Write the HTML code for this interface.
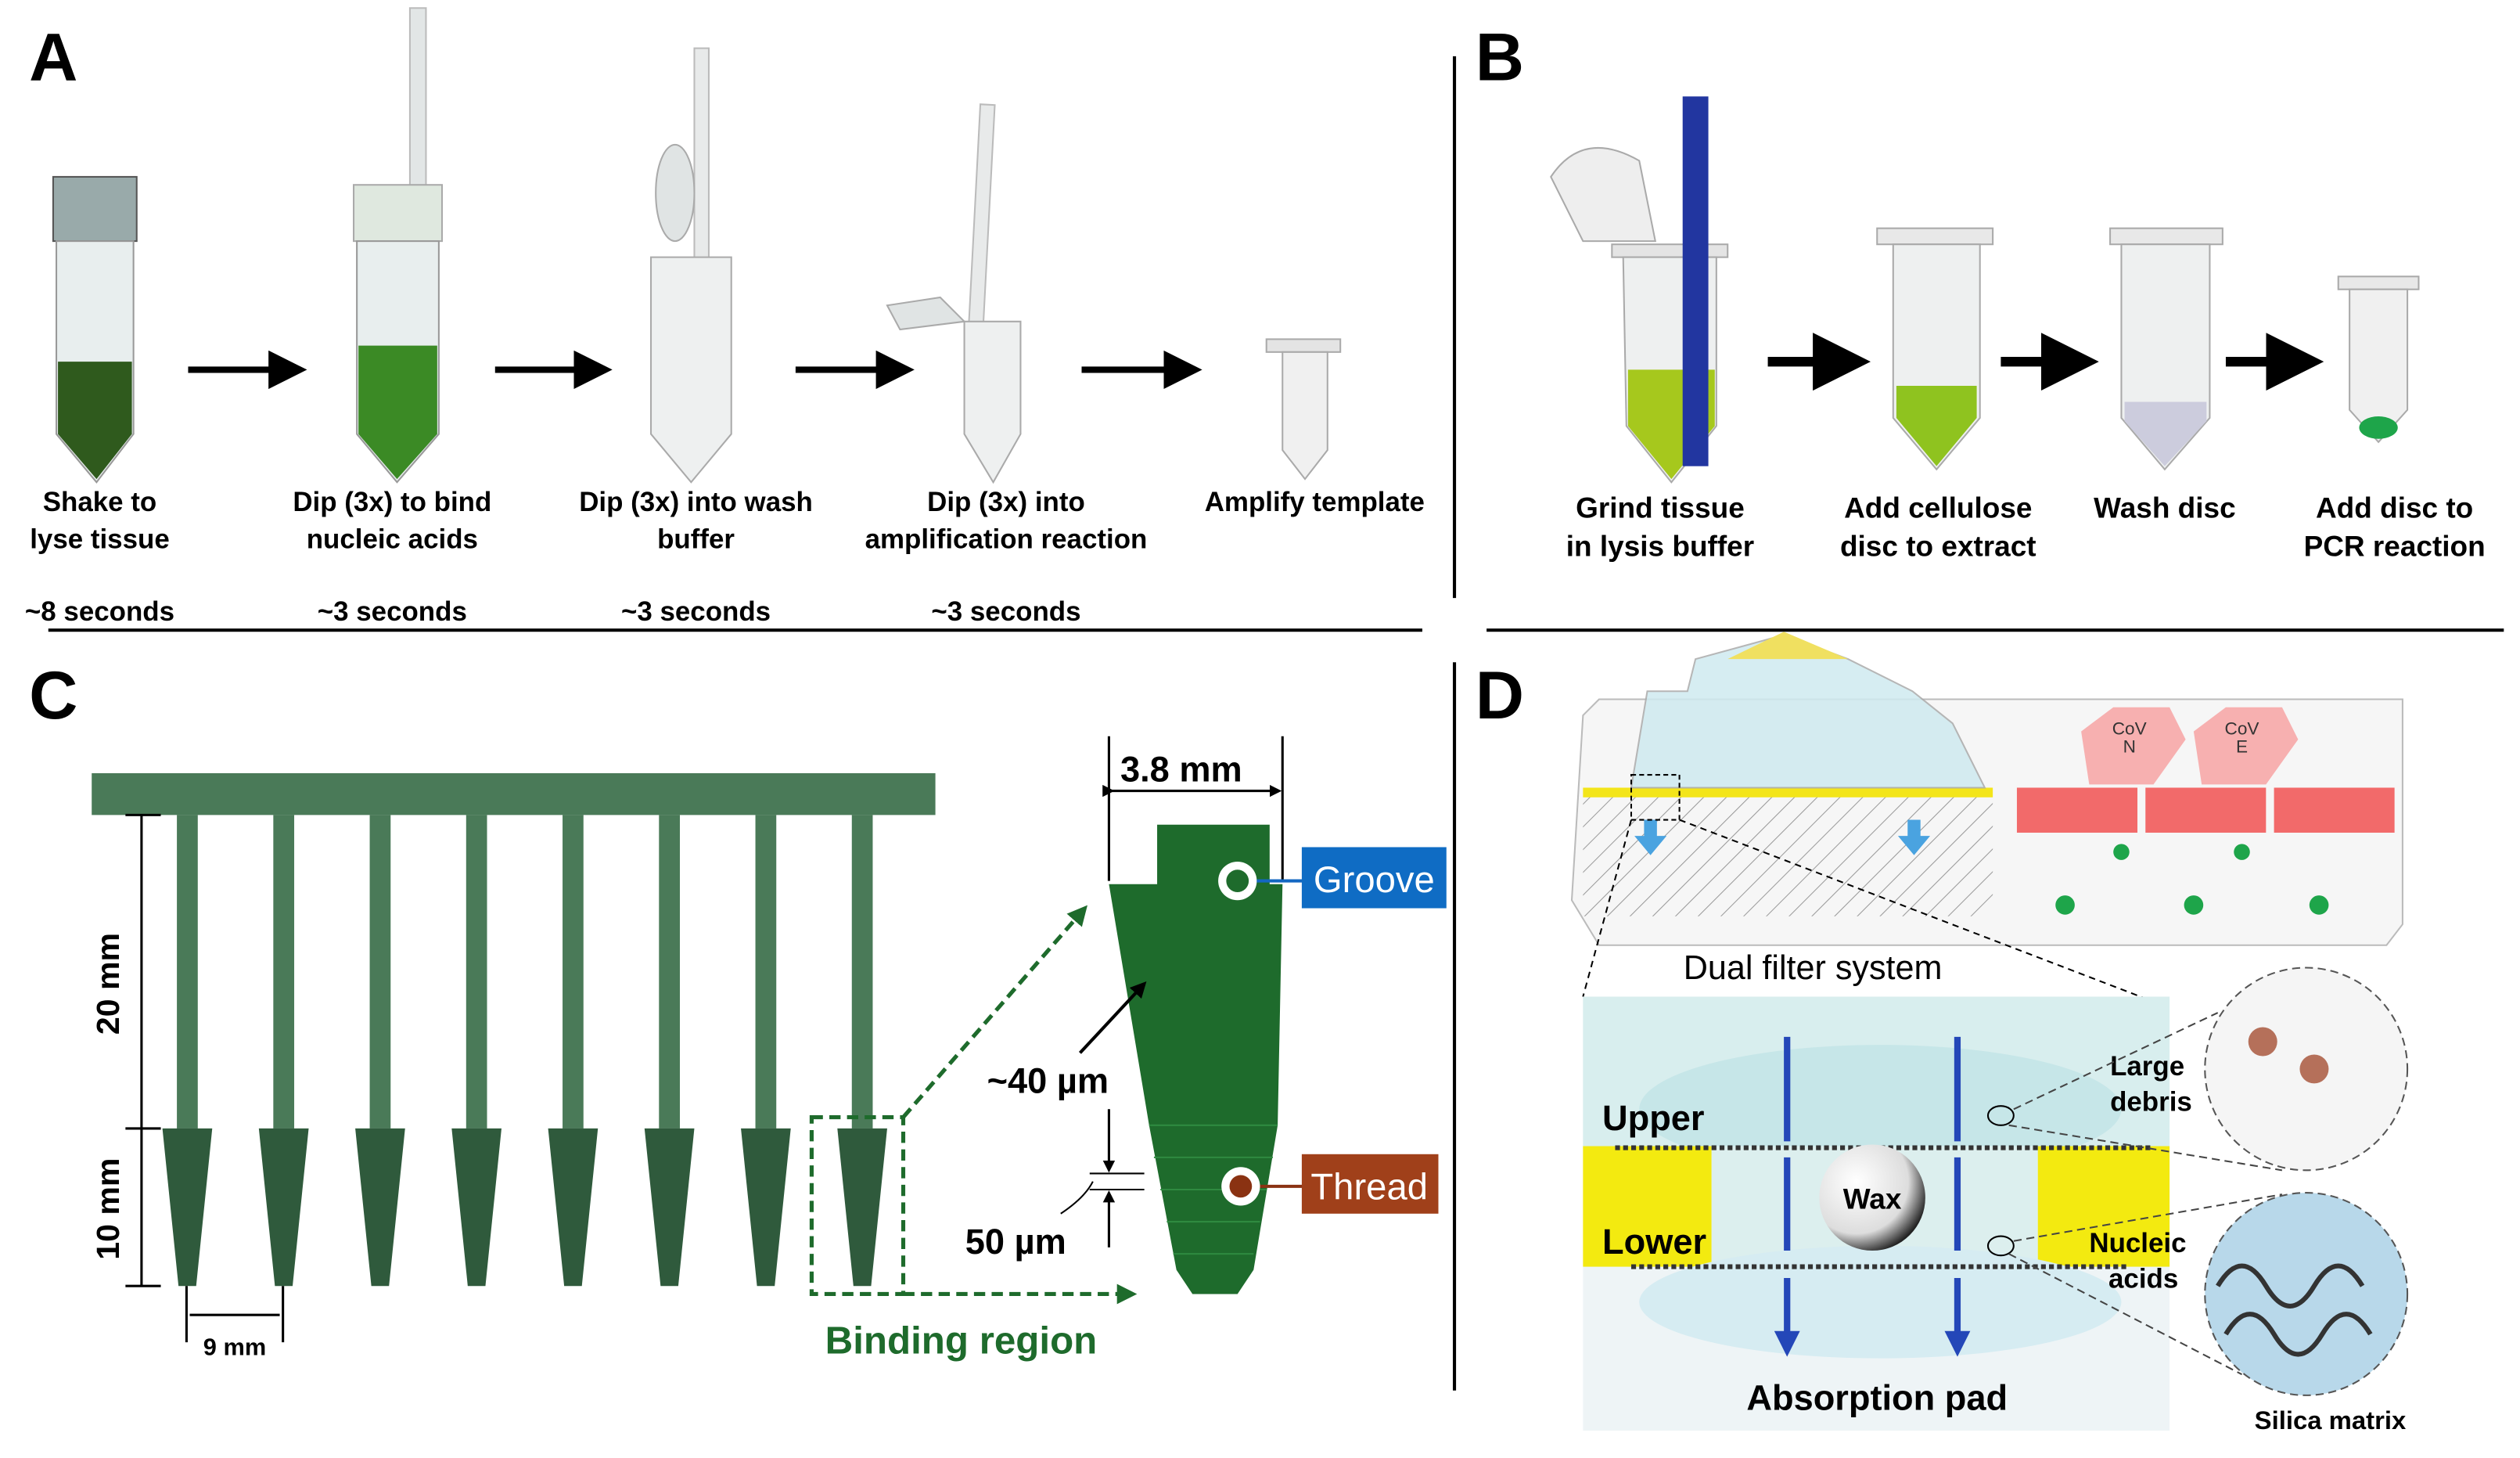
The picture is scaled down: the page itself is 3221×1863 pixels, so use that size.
<!DOCTYPE html>
<html><head><meta charset="utf-8"><style>
html,body{margin:0;padding:0;background:#fff;}
svg{display:block;}
text{font-family:"Liberation Sans",sans-serif;}
</style></head><body>
<svg width="3221" height="1863" viewBox="0 0 1568 907" xmlns="http://www.w3.org/2000/svg">
<defs>
<marker id="ah" markerWidth="6" markerHeight="6" refX="5" refY="3" orient="auto"><path d="M0,0 L6,3 L0,6 Z" fill="#000"/></marker>
<marker id="ag" markerWidth="5" markerHeight="5" refX="4" refY="2.5" orient="auto"><path d="M0,0 L5,2.5 L0,5 Z" fill="#1e6b2c"/></marker>
<marker id="ab" markerWidth="4" markerHeight="4" refX="3" refY="2" orient="auto"><path d="M0,0 L4,2 L0,4 Z" fill="#2447b8"/></marker>
<marker id="ak" markerWidth="5" markerHeight="5" refX="4" refY="2.5" orient="auto"><path d="M0,0 L5,2.5 L0,5 Z" fill="#000"/></marker>
<pattern id="hatch" width="10" height="10" patternUnits="userSpaceOnUse" patternTransform="rotate(45)"><line x1="0" y1="0" x2="0" y2="10" stroke="#999" stroke-width="1"/></pattern>
<radialGradient id="wax" cx="0.35" cy="0.35" r="0.7"><stop offset="0" stop-color="#fff"/><stop offset="0.7" stop-color="#ddd"/><stop offset="1" stop-color="#222"/></radialGradient>
</defs>
<g font-weight="bold">
<text x="18" y="50" font-size="42">A</text>
<text x="918" y="50" font-size="42">B</text>
<text x="18" y="447" font-size="42">C</text>
<text x="918" y="447" font-size="42">D</text>
</g>
<line x1="905" y1="35" x2="905" y2="372" stroke="#000" stroke-width="2"/>
<line x1="905" y1="412" x2="905" y2="865" stroke="#000" stroke-width="2"/>
<line x1="30" y1="392" x2="885" y2="392" stroke="#000" stroke-width="2"/>
<line x1="925" y1="392" x2="1558" y2="392" stroke="#000" stroke-width="2"/>

<!-- Panel A tubes -->
<g>
<rect x="33" y="110" width="52" height="40" fill="#9aa" stroke="#555"/>
<path d="M35,150 H83 V270 L60,300 L35,270 Z" fill="#e8eeee" stroke="#999"/>
<path d="M36,225 H82 V270 L60,298 L36,270 Z" fill="#2f5a1d"/>
<rect x="255" y="5" width="10" height="130" fill="#e2e6e6" stroke="#bbb"/>
<rect x="220" y="115" width="55" height="35" fill="#dfe8df" stroke="#aaa"/>
<path d="M222,150 H273 V270 L247,300 L222,270 Z" fill="#e8eeee" stroke="#999"/>
<path d="M223,215 H272 V270 L247,298 L223,270 Z" fill="#3b8a25"/>
<rect x="432" y="30" width="9" height="190" fill="#e8eaea" stroke="#bbb"/>
<ellipse cx="420" cy="120" rx="12" ry="30" fill="#e0e4e4" stroke="#aaa"/>
<path d="M405,160 H455 V270 L430,300 L405,270 Z" fill="#eef0f0" stroke="#aaa"/>
<rect x="605" y="65" width="9" height="190" fill="#e8eaea" stroke="#bbb" transform="rotate(3 610 160)"/>
<path d="M552,190 L585,185 L600,200 L560,205 Z" fill="#e0e4e4" stroke="#aaa"/>
<path d="M600,200 H635 V270 L618,300 L600,270 Z" fill="#eef0f0" stroke="#aaa"/>
<rect x="788" y="211" width="46" height="8" fill="#e4e4e4" stroke="#aaa"/>
<path d="M798,219 H826 V280 L812,298 L798,280 Z" fill="#f0f0f0" stroke="#aaa"/>
</g>
<g stroke="#000" stroke-width="4" marker-end="url(#ah)">
<line x1="117" y1="230" x2="187" y2="230"/><line x1="308" y1="230" x2="377" y2="230"/>
<line x1="495" y1="230" x2="565" y2="230"/><line x1="673" y1="230" x2="744" y2="230"/>
</g>
<g font-size="17" font-weight="bold" text-anchor="middle">
<text x="62" y="318">Shake to</text><text x="62" y="341">lyse tissue</text>
<text x="244" y="318">Dip (3x) to bind</text><text x="244" y="341">nucleic acids</text>
<text x="433" y="318">Dip (3x) into wash</text><text x="433" y="341">buffer</text>
<text x="626" y="318">Dip (3x) into</text><text x="626" y="341">amplification reaction</text>
<text x="818" y="318">Amplify template</text>
<text x="62" y="386">~8 seconds</text><text x="244" y="386">~3 seconds</text>
<text x="433" y="386">~3 seconds</text><text x="626" y="386">~3 seconds</text>
</g>

<!-- Panel B -->
<g>
<path d="M965,110 Q985,80 1020,100 L1030,150 L985,150 Z" fill="#eee" stroke="#aaa"/>
<rect x="1003" y="152" width="72" height="8" fill="#e4e4e4" stroke="#aaa"/>
<path d="M1010,160 H1068 V265 L1040,300 L1012,265 Z" fill="#eef0f0" stroke="#aaa"/>
<path d="M1013,230 H1067 V265 L1040,298 L1013,265 Z" fill="#a6c81d"/>
<rect x="1047" y="60" width="16" height="230" fill="#2236a0"/>
<rect x="1168" y="142" width="72" height="10" fill="#e8e8e8" stroke="#aaa"/>
<path d="M1178,152 H1232 V260 L1205,292 L1178,260 Z" fill="#eef0f0" stroke="#aaa"/>
<path d="M1180,240 H1230 V260 L1205,290 L1180,260 Z" fill="#8fc31f"/>
<rect x="1313" y="142" width="70" height="10" fill="#e8e8e8" stroke="#aaa"/>
<path d="M1320,152 H1375 V260 L1347,292 L1320,260 Z" fill="#eef0f0" stroke="#aaa"/>
<path d="M1322,250 H1373 V262 L1347,290 L1322,262 Z" fill="#ccd"/>
<rect x="1455" y="172" width="50" height="8" fill="#e8e8e8" stroke="#aaa"/>
<path d="M1462,180 H1498 V255 L1480,275 L1462,255 Z" fill="#f0f0f0" stroke="#aaa"/>
<ellipse cx="1480" cy="266" rx="12" ry="7" fill="#1ea54a"/>
</g>
<g stroke="#000" stroke-width="6" marker-end="url(#ah)">
<line x1="1100" y1="225" x2="1158" y2="225"/><line x1="1245" y1="225" x2="1300" y2="225"/><line x1="1385" y1="225" x2="1440" y2="225"/>
</g>
<g font-size="18" font-weight="bold" text-anchor="middle">
<text x="1033" y="322">Grind tissue</text><text x="1033" y="346">in lysis buffer</text>
<text x="1206" y="322">Add cellulose</text><text x="1206" y="346">disc to extract</text>
<text x="1347" y="322">Wash disc</text>
<text x="1490" y="322">Add disc to</text><text x="1490" y="346">PCR reaction</text>
</g>

<!-- Panel C -->
<g fill="#4a7a58">
<rect x="57" y="481" width="525" height="26"/>
<g id="tooth">
<rect x="110" y="507" width="13" height="195"/>
<path d="M101,702 H132 L122,800 H111 Z" fill="#2f5a3c"/>
</g>
<use href="#tooth" x="60"/><use href="#tooth" x="120"/><use href="#tooth" x="180"/>
<use href="#tooth" x="240"/><use href="#tooth" x="300"/><use href="#tooth" x="360"/><use href="#tooth" x="420"/>
</g>
<g stroke="#000" stroke-width="1.5">
<line x1="88" y1="507" x2="88" y2="800"/>
<line x1="78" y1="507" x2="100" y2="507"/><line x1="78" y1="702" x2="100" y2="702"/><line x1="78" y1="800" x2="100" y2="800"/>
<line x1="116" y1="800" x2="116" y2="835"/><line x1="176" y1="800" x2="176" y2="835"/>
<line x1="118" y1="818" x2="174" y2="818"/>
</g>
<g font-size="20" font-weight="bold">
<text transform="translate(74,612) rotate(-90)" text-anchor="middle">20 mm</text>
<text transform="translate(74,752) rotate(-90)" text-anchor="middle">10 mm</text>
<text x="146" y="843" font-size="15" text-anchor="middle">9 mm</text>
</g>
<rect x="505" y="695" width="57" height="110" fill="none" stroke="#1e6b2c" stroke-width="2.5" stroke-dasharray="7,4"/>
<line x1="562" y1="695" x2="675" y2="565" stroke="#1e6b2c" stroke-width="2.5" stroke-dasharray="7,4" marker-end="url(#ag)"/>
<line x1="562" y1="805" x2="705" y2="805" stroke="#1e6b2c" stroke-width="2.5" stroke-dasharray="7,4" marker-end="url(#ag)"/>
<text x="598" y="842" font-size="24" font-weight="bold" fill="#1e6b2c" text-anchor="middle">Binding region</text>
<path d="M720,513 H790 V550 H798 L795,700 L780,790 L770,805 L742,805 L732,790 L715,700 L690,550 H720 Z" fill="#1e6b2c"/>
<g stroke="#2f8a40" stroke-width="1"><line x1="715" y1="700" x2="795" y2="700"/><line x1="718" y1="720" x2="792" y2="720"/><line x1="722" y1="740" x2="788" y2="740"/><line x1="726" y1="760" x2="784" y2="760"/><line x1="730" y1="780" x2="780" y2="780"/></g>
<line x1="690" y1="458" x2="690" y2="548" stroke="#000" stroke-width="1.5"/>
<line x1="798" y1="458" x2="798" y2="548" stroke="#000" stroke-width="1.5"/>
<line x1="692" y1="492" x2="796" y2="492" stroke="#000" stroke-width="1.5" marker-start="url(#ak)" marker-end="url(#ak)"/>
<text x="735" y="486" font-size="22" font-weight="bold" text-anchor="middle">3.8 mm</text>
<circle cx="770" cy="548" r="12" fill="#fff"/><circle cx="770" cy="548" r="7" fill="#1e6b2c"/>
<line x1="782" y1="548" x2="812" y2="548" stroke="#1367c2" stroke-width="2"/>
<rect x="810" y="527" width="90" height="38" fill="#0f6cc4"/>
<text x="855" y="555" font-size="23" fill="#fff" text-anchor="middle">Groove</text>
<circle cx="772" cy="738" r="12" fill="#fff"/><circle cx="772" cy="738" r="7" fill="#8a3212"/>
<line x1="784" y1="738" x2="812" y2="738" stroke="#8a3212" stroke-width="2"/>
<rect x="810" y="718" width="85" height="37" fill="#a0401a"/>
<text x="852" y="746" font-size="23" fill="#fff" text-anchor="middle">Thread</text>
<line x1="672" y1="655" x2="712" y2="612" stroke="#000" stroke-width="2" marker-end="url(#ak)"/>
<text x="652" y="680" font-size="22" font-weight="bold" text-anchor="middle">~40 µm</text>
<line x1="690" y1="690" x2="690" y2="728" stroke="#000" stroke-width="1.5" marker-end="url(#ak)"/>
<line x1="690" y1="776" x2="690" y2="742" stroke="#000" stroke-width="1.5" marker-end="url(#ak)"/>
<line x1="678" y1="730" x2="712" y2="730" stroke="#000"/><line x1="678" y1="740" x2="712" y2="740"/>
<line x1="678" y1="740" x2="712" y2="740" stroke="#000"/>
<path d="M660,755 Q675,745 680,735" fill="none" stroke="#000"/>
<text x="632" y="780" font-size="22" font-weight="bold" text-anchor="middle">50 µm</text>

<!-- Panel D -->
<path d="M985,445 L995,435 H1495 L1495,575 L1485,588 H995 L978,560 Z" fill="#f6f6f6" stroke="#bbb"/>
<rect x="985" y="495" width="255" height="75" fill="url(#hatch)"/>
<rect x="985" y="490" width="255" height="6" fill="#f3e51a"/>
<path d="M1015,490 L1025,430 L1050,430 L1055,410 L1110,395 L1150,410 L1190,430 L1215,450 L1235,490 Z" fill="#cfeaf0" opacity="0.85" stroke="#aaa"/>
<path d="M1075,410 L1110,393 L1150,410 Z" fill="#f0e060"/>
<rect x="1255" y="490" width="75" height="28" fill="#f26a6a"/><rect x="1335" y="490" width="75" height="28" fill="#f26a6a"/><rect x="1415" y="490" width="75" height="28" fill="#f26a6a"/>
<path d="M1295,455 L1315,440 H1350 L1360,460 L1340,488 H1300 Z" fill="#f7b0b0"/>
<path d="M1365,455 L1385,440 H1420 L1430,460 L1410,488 H1370 Z" fill="#f7b0b0"/>
<text x="1325" y="457" font-size="11" fill="#333" text-anchor="middle">CoV</text><text x="1325" y="468" font-size="11" fill="#333" text-anchor="middle">N</text>
<text x="1395" y="457" font-size="11" fill="#333" text-anchor="middle">CoV</text><text x="1395" y="468" font-size="11" fill="#333" text-anchor="middle">E</text>
<g fill="#1ea54a"><circle cx="1320" cy="530" r="5"/><circle cx="1395" cy="530" r="5"/><circle cx="1285" cy="563" r="6"/><circle cx="1365" cy="563" r="6"/><circle cx="1443" cy="563" r="6"/></g>
<g fill="#4aa3e0"><path d="M1023,510 h8 v10 h6 l-10,12 l-10,-12 h6 Z"/><path d="M1187,510 h8 v10 h6 l-10,12 l-10,-12 h6 Z"/></g>
<rect x="1015" y="482" width="30" height="28" fill="none" stroke="#000" stroke-dasharray="3,2"/>
<line x1="1015" y1="510" x2="985" y2="620" stroke="#000" stroke-dasharray="4,3"/>
<line x1="1045" y1="510" x2="1345" y2="625" stroke="#000" stroke-dasharray="4,3"/>
<text x="1128" y="609" font-size="21" text-anchor="middle">Dual filter system</text>
<rect x="985" y="620" width="365" height="270" fill="#eef4f6"/>
<rect x="985" y="620" width="365" height="95" fill="#d8eeee"/>
<ellipse cx="1170" cy="690" rx="150" ry="40" fill="#c6e6e8"/>
<rect x="985" y="713" width="80" height="75" fill="#f3ea10"/><rect x="1268" y="713" width="82" height="75" fill="#f3ea10"/>
<rect x="1065" y="713" width="203" height="75" fill="#dcefee"/>
<ellipse cx="1170" cy="810" rx="150" ry="35" fill="#d6ecf2"/>
<line x1="1005" y1="714" x2="1340" y2="714" stroke="#333" stroke-width="3" stroke-dasharray="3,2"/>
<line x1="1015" y1="788" x2="1325" y2="788" stroke="#333" stroke-width="3" stroke-dasharray="3,2"/>
<g stroke="#2447b8" stroke-width="4">
<line x1="1112" y1="645" x2="1112" y2="710"/><line x1="1112" y1="720" x2="1112" y2="778"/><line x1="1112" y1="795" x2="1112" y2="840" marker-end="url(#ab)"/>
<line x1="1218" y1="645" x2="1218" y2="710"/><line x1="1218" y1="720" x2="1218" y2="778"/><line x1="1218" y1="795" x2="1218" y2="840" marker-end="url(#ab)"/>
</g>
<circle cx="1165" cy="745" r="33" fill="url(#wax)"/>
<text x="1165" y="752" font-size="18" font-weight="bold" text-anchor="middle">Wax</text>
<text x="997" y="703" font-size="22" font-weight="bold">Upper</text>
<text x="997" y="780" font-size="22" font-weight="bold">Lower</text>
<text x="1168" y="877" font-size="22" font-weight="bold" text-anchor="middle">Absorption pad</text>
<text x="1313" y="669" font-size="17" font-weight="bold">Large</text><text x="1313" y="691" font-size="17" font-weight="bold">debris</text>
<text x="1300" y="779" font-size="17" font-weight="bold">Nucleic</text><text x="1312" y="801" font-size="17" font-weight="bold">acids</text>
<circle cx="1435" cy="665" r="63" fill="#f5f5f5" stroke="#555" stroke-dasharray="5,3"/>
<circle cx="1408" cy="648" r="9" fill="#b5705a"/><circle cx="1440" cy="665" r="9" fill="#b5705a"/>
<circle cx="1435" cy="805" r="63" fill="#b8d8ea" stroke="#555" stroke-dasharray="5,3"/>
<path d="M1380,800 q15,-25 30,0 t30,0 t30,0 M1385,830 q15,-25 30,0 t30,0 t30,0" fill="none" stroke="#333" stroke-width="3"/>
<ellipse cx="1245" cy="694" rx="8" ry="6" fill="none" stroke="#000"/>
<ellipse cx="1245" cy="775" rx="8" ry="6" fill="none" stroke="#000"/>
<g stroke="#444" stroke-dasharray="5,3"><line x1="1253" y1="690" x2="1380" y2="630"/><line x1="1250" y1="700" x2="1420" y2="728"/><line x1="1253" y1="772" x2="1420" y2="743"/><line x1="1250" y1="780" x2="1395" y2="855"/></g>
<text x="1450" y="889" font-size="16" font-weight="bold" text-anchor="middle">Silica matrix</text>
</svg>
</body></html>
